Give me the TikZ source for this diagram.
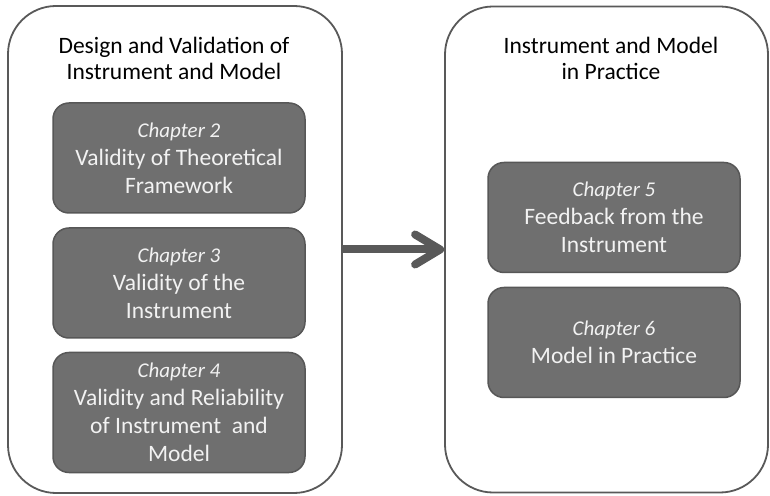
\documentclass[tikz,border=0pt]{standalone}
\usepackage{fontspec}
\setmainfont{Carlito}
\usetikzlibrary{arrows.meta}

\definecolor{partline}{HTML}{595959}
\definecolor{boxline}{HTML}{575757}
\definecolor{boxfill}{HTML}{6F6F6F}

% italic chapter line above each box title
\newcommand{\chapnum}[1]{{\fontsize{21}{28}\selectfont\itshape Chapter #1}}

\begin{document}
\begin{tikzpicture}[x=1pt,y=1pt,
  part/.style={draw=partline,line width=1.8pt,rounded corners=48pt,fill=white,inner sep=0pt},
  chapter/.style={draw=boxline,fill=boxfill,line width=1.5pt,rounded corners=16pt,
    minimum width=252pt,minimum height=110pt,inner sep=0pt,text=white!95!black,
    align=center,font=\fontsize{23.5}{28}\selectfont},
  heading/.style={align=center,font=\fontsize{23.5}{26}\selectfont},
  link/.style={draw=partline,line width=8pt,-{Straight Barb[length=25pt,width=30pt,round]}}]
  \useasboundingbox (0,0) rectangle (770,495);
  % the two parts of the thesis
  \node[part,minimum width=334pt,minimum height=487pt] (design) at (175,245.5) {};
  \node[part,minimum width=323pt,minimum height=486pt] (practice) at (606.5,245.5) {};
  \node[heading] (designtitle) at (174,436.5) {Design and Validation of\\Instrument and Model};
  \node[heading] (practicetitle) at (611,436.5) {Instrument and Model\\in Practice};
  % chapters of part one
  \node[chapter] (ch2) at (179,337) {\chapnum{2}\\Validity of Theoretical\\Framework};
  \node[chapter] (ch3) at (179,212) {\chapnum{3}\\Validity of the\\Instrument};
  \node[chapter,minimum height=120pt] (ch4) at (179,82.5) {\chapnum{4}\\Validity and Reliability\\of Instrument\ \ and\\Model};
  % chapters of part two
  \node[chapter] (ch5) at (614,277.5) {\chapnum{5}\\Feedback from the\\Instrument};
  \node[chapter] (ch6) at (614,152.5) {\chapnum{6}\\Model in Practice};
  % from part one to part two
  \draw[link] (design.east) -- (practice.west);
\end{tikzpicture}
\end{document}
